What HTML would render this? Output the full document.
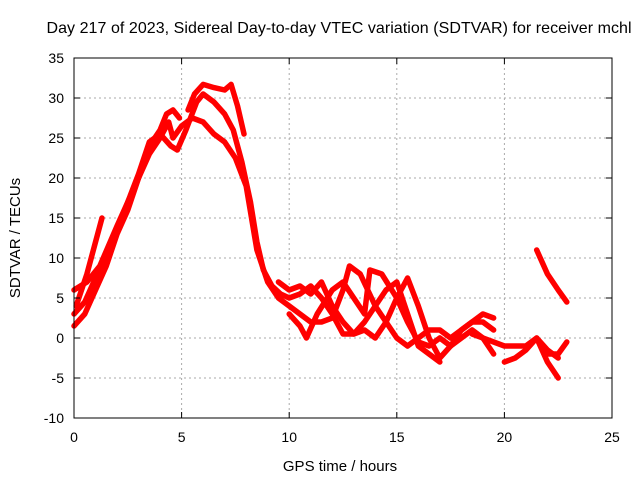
<!DOCTYPE html>
<html><head><meta charset="utf-8"><style>
body{margin:0;background:#fff}
svg{display:block;font-family:"Liberation Sans",sans-serif}
</style></head><body>
<svg id="c" width="640" height="480">
<text x="339" y="33" font-size="16" text-anchor="middle" textLength="585">Day 217 of 2023, Sidereal Day-to-day VTEC variation (SDTVAR) for receiver mchl</text>
<text x="340" y="471" font-size="15" text-anchor="middle">GPS time / hours</text>
<text transform="translate(20,238) rotate(-90)" font-size="15" text-anchor="middle">SDTVAR / TECUs</text>
<g id="grid"></g><g id="series"></g><g id="axes"></g>
</svg>
<script>
const xTicks=[0,5,10,15,20,25];
const yTicks=[-10,-5,0,5,10,15,20,25,30,35];
const s1=[[0,1.5],[0.5,3],[1,6],[1.5,9],[2,13],[2.5,16],[3,20],[3.5,24],[4,26],[4.3,28],[4.6,28.5],[4.9,27.5]];
const s2=[[5.3,28.5],[5.6,30.5],[6,31.7],[6.5,31.3],[7,31],[7.3,31.7],[7.6,29],[7.9,25.5]];
const s3=[[0,3],[0.5,4.5],[1,7.5],[1.5,10],[2,13.5],[2.5,17],[3,20.5],[3.5,24.5],[4,25.5],[4.5,24],[4.8,23.5],[5.2,26],[5.7,29.5],[6,30.5],[6.5,29.5],[7,28],[7.4,26],[7.8,22],[8.2,17],[8.5,12],[8.8,8.5],[9.2,6.5],[9.6,5.5],[10,5],[10.5,5.5],[11,6.5],[11.5,5],[12,3],[12.5,0.5],[13,0.5],[13.5,2],[14,4],[14.5,6],[15,7],[15.5,3],[16,-1],[16.5,-2],[17,-3]];
const s4=[[0.1,4],[0.6,8],[1.3,15]];
const s5=[[0,6],[0.6,7],[1.2,9],[2,14],[3,20],[3.5,23],[4,25],[4.4,27],[4.6,25],[5,26.5],[5.5,27.5],[6,27],[6.5,25.5],[7,24.5],[7.5,22.5],[8,19],[8.5,11],[9,7],[9.5,5],[10,4],[10.5,3],[11,2],[11.5,2],[12,2.5],[12.5,6],[12.8,9],[13.3,8],[14,4],[14.5,2],[15,0],[15.5,-1],[16,0],[16.5,1],[17,1],[17.5,0],[18,1],[18.5,2],[19,2],[19.5,1]];
const s6=[[10,3],[10.5,1.5],[10.8,0],[11.3,3],[12,6],[12.5,7],[13,5],[13.5,3],[13.75,8.5],[14.3,8],[15,5],[15.5,2],[16,-0.5],[16.5,-1],[17,0],[17.5,-1],[18,0],[18.5,1],[19,0],[19.5,-2]];
const s7=[[9.5,7],[10,6],[10.5,6.5],[11,5.5],[11.5,7],[12,4],[12.5,2],[13,0.5],[13.5,1],[14,0],[14.5,2],[15,5],[15.5,7.5],[16,4],[16.5,0],[17,-2.5],[17.5,-1],[18,1],[18.5,2],[19,3],[19.5,2.5]];
const s8=[[18.5,0.5],[19,0],[19.5,-0.5],[20,-1],[20.5,-1],[21,-1],[21.5,0],[22,-1.5],[22.5,-2.5]];
const s9=[[20,-3],[20.5,-2.5],[21,-1.5],[21.5,0],[22,-3],[22.5,-5]];
const s10=[[21.5,11],[22,8],[22.5,6],[22.9,4.5]];
const s11=[[22,-2],[22.5,-2],[22.9,-0.5]];
const seriesList=[s1,s2,s3,s4,s5,s6,s7,s8,s9,s10,s11];
const L=74,R=612,T=58,B=418;
const X=v=>L+(v-0)/(25-0)*(R-L);
const Y=v=>B-(v+10)/45*(B-T);
const NS="http://www.w3.org/2000/svg";
function mk(t,a,p){const e=document.createElementNS(NS,t);for(const k in a)e.setAttribute(k,a[k]);p.appendChild(e);return e;}
const grid=document.getElementById('grid'),axes=document.getElementById('axes'),ser=document.getElementById('series');
xTicks.forEach(v=>{
 if(v>0&&v<25){const g=mk('line',{x1:X(v),x2:X(v),y1:T,y2:B,stroke:'#aaa','stroke-dasharray':'2,3','stroke-width':1},grid);
 }
 mk('line',{x1:X(v),x2:X(v),y1:B,y2:B-6,stroke:'#000'},axes);
 mk('line',{x1:X(v),x2:X(v),y1:T,y2:T+6,stroke:'#000'},axes);
 const t=mk('text',{x:X(v),y:B+24,'font-size':14,'text-anchor':'middle'},axes);t.textContent=v;
 
});
yTicks.forEach(v=>{
 if(v>-10&&v<35){const g=mk('line',{x1:L,x2:R,y1:Y(v),y2:Y(v),stroke:'#aaa','stroke-dasharray':'2,3','stroke-width':1},grid);
 }
 mk('line',{x1:L,x2:L+6,y1:Y(v),y2:Y(v),stroke:'#000'},axes);
 mk('line',{x1:R,x2:R-6,y1:Y(v),y2:Y(v),stroke:'#000'},axes);
 const t=mk('text',{x:L-10,y:Y(v)+5,'font-size':14,'text-anchor':'end'},axes);t.textContent=v;
 
});
const fr=mk('rect',{x:L,y:T,width:R-L,height:B-T,fill:'none',stroke:'#000'},axes);

seriesList.forEach((s,i)=>{
 const p=mk('polyline',{points:s.map(d=>X(d[0])+','+Y(d[1])).join(' '),fill:'none',stroke:'#f00','stroke-width':5.5,'stroke-linejoin':'round','stroke-linecap':'round'},ser);
 
 
});
</script>
</body></html>
